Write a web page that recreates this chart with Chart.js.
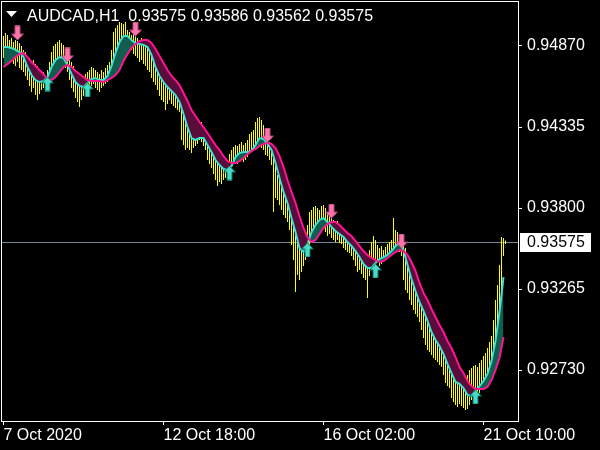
<!DOCTYPE html>
<html><head><meta charset="utf-8">
<script src="https://cdn.jsdelivr.net/npm/chart.js@4.4.0/dist/chart.umd.min.js"></script>
<style>html,body{margin:0;padding:0;background:#000;overflow:hidden;}canvas{display:block;}</style>
</head><body>
<canvas id="c" width="600" height="450"></canvas>
<script>
const symbolTitle = 'AUDCAD,H1';
const ohlcLast = ['0.93575', '0.93586', '0.93562', '0.93575'];
const currentPrice = 0.93575;
const yTickValues = [0.92730, 0.93265, 0.93800, 0.94335, 0.94870];
const xTickBars = [0, 80, 160, 240];
const xTickLabels = ['7 Oct 2020', '12 Oct 18:00', '16 Oct 02:00', '21 Oct 10:00'];

const barHighs = [
0.94936,0.94956,0.94943,0.94910,0.94923,0.94896,0.94910,0.94903,0.94890,0.94870,
0.94844,0.94830,0.94804,0.94791,0.94764,0.94778,0.94751,0.94738,0.94711,0.94685,
0.94698,0.94672,0.94711,0.94764,0.94830,0.94870,0.94883,0.94896,0.94910,0.94890,
0.94877,0.94857,0.94830,0.94791,0.94764,0.94738,0.94711,0.94698,0.94685,0.94672,
0.94659,0.94685,0.94698,0.94711,0.94731,0.94725,0.94711,0.94698,0.94685,0.94711,
0.94698,0.94725,0.94745,0.94764,0.94844,0.94962,0.94989,0.95009,0.95029,0.95022,
0.95016,0.95029,0.94976,0.94962,0.94943,0.94949,0.94936,0.94923,0.94910,0.94923,
0.94896,0.94883,0.94870,0.94857,0.94830,0.94804,0.94778,0.94725,0.94698,0.94678,
0.94659,0.94606,0.94619,0.94606,0.94593,0.94606,0.94579,0.94566,0.94553,0.94527,
0.94447,0.94394,0.94335,0.94302,0.94282,0.94315,0.94289,0.94328,0.94355,0.94368,
0.94342,0.94289,0.94249,0.94223,0.94210,0.94183,0.94150,0.94130,0.94117,0.94104,
0.94091,0.94104,0.94117,0.94157,0.94183,0.94203,0.94216,0.94210,0.94223,0.94236,
0.94216,0.94229,0.94249,0.94289,0.94302,0.94315,0.94368,0.94394,0.94401,0.94381,
0.94348,0.94315,0.94262,0.94236,0.94223,0.94203,0.94117,0.94018,0.93985,0.93972,
0.93952,0.93932,0.93906,0.93853,0.93826,0.93754,0.93688,0.93602,0.93575,0.93549,
0.93589,0.93641,0.93688,0.93774,0.93787,0.93807,0.93813,0.93800,0.93787,0.93813,
0.93820,0.93800,0.93774,0.93754,0.93734,0.93721,0.93708,0.93714,0.93694,0.93681,
0.93655,0.93641,0.93628,0.93615,0.93602,0.93589,0.93575,0.93556,0.93542,0.93503,
0.93490,0.93470,0.93456,0.93523,0.93575,0.93615,0.93589,0.93556,0.93536,0.93549,
0.93523,0.93542,0.93562,0.93575,0.93589,0.93734,0.93655,0.93641,0.93615,0.93589,
0.93562,0.93536,0.93443,0.93390,0.93364,0.93351,0.93324,0.93298,0.93272,0.93245,
0.93192,0.93153,0.93126,0.93100,0.93073,0.93060,0.93034,0.93007,0.92968,0.92941,
0.92895,0.92862,0.92836,0.92809,0.92756,0.92730,0.92717,0.92697,0.92717,0.92704,
0.92690,0.92677,0.92697,0.92730,0.92743,0.92756,0.92763,0.92750,0.92776,0.92796,
0.92822,0.92842,0.92875,0.92915,0.92955,0.93060,0.93192,0.93291,0.93424,0.93608,
0.93602,0.93586];

const barLows = [
0.94791,0.94804,0.94778,0.94764,0.94791,0.94751,0.94738,0.94764,0.94725,0.94711,
0.94698,0.94672,0.94645,0.94606,0.94566,0.94593,0.94546,0.94513,0.94553,0.94579,
0.94593,0.94579,0.94606,0.94632,0.94672,0.94711,0.94725,0.94751,0.94764,0.94738,
0.94751,0.94725,0.94698,0.94645,0.94593,0.94566,0.94527,0.94500,0.94467,0.94513,
0.94540,0.94566,0.94579,0.94593,0.94606,0.94619,0.94593,0.94579,0.94566,0.94593,
0.94606,0.94619,0.94632,0.94659,0.94698,0.94778,0.94804,0.94830,0.94844,0.94857,
0.94830,0.94857,0.94844,0.94830,0.94844,0.94817,0.94804,0.94791,0.94764,0.94778,
0.94751,0.94738,0.94711,0.94698,0.94659,0.94632,0.94612,0.94579,0.94540,0.94513,
0.94500,0.94447,0.94487,0.94513,0.94487,0.94474,0.94460,0.94447,0.94434,0.94249,
0.94216,0.94183,0.94196,0.94183,0.94163,0.94196,0.94210,0.94223,0.94249,0.94236,
0.94210,0.94183,0.94117,0.94091,0.94064,0.94025,0.93985,0.93945,0.93972,0.93958,
0.93985,0.93998,0.94011,0.94038,0.94077,0.94091,0.94104,0.94091,0.94117,0.94130,
0.94104,0.94117,0.94137,0.94157,0.94170,0.94183,0.94210,0.94223,0.94236,0.94196,
0.94183,0.94150,0.94143,0.94117,0.94084,0.93774,0.93866,0.93853,0.93820,0.93787,
0.93754,0.93734,0.93708,0.93655,0.93556,0.93456,0.93245,0.93357,0.93324,0.93377,
0.93417,0.93456,0.93490,0.93556,0.93602,0.93641,0.93655,0.93641,0.93622,0.93655,
0.93668,0.93641,0.93615,0.93628,0.93602,0.93589,0.93575,0.93589,0.93569,0.93562,
0.93536,0.93523,0.93509,0.93503,0.93483,0.93456,0.93417,0.93377,0.93390,0.93364,
0.93338,0.93324,0.93206,0.93351,0.93390,0.93417,0.93430,0.93443,0.93417,0.93430,
0.93443,0.93456,0.93470,0.93483,0.93496,0.93509,0.93523,0.93536,0.93509,0.93483,
0.93324,0.93258,0.93239,0.93192,0.93159,0.93126,0.93100,0.93080,0.93047,0.92994,
0.92941,0.92895,0.92862,0.92849,0.92829,0.92809,0.92796,0.92783,0.92763,0.92750,
0.92697,0.92644,0.92624,0.92611,0.92545,0.92519,0.92499,0.92486,0.92505,0.92492,
0.92479,0.92466,0.92472,0.92499,0.92532,0.92545,0.92558,0.92565,0.92578,0.92611,
0.92631,0.92651,0.92677,0.92697,0.92730,0.92796,0.92895,0.92961,0.93060,0.93192,
0.93483,0.93562];

// fast (cyan) and slow (pink) indicator lines, one value every 2 bars
const fastLine = [
0.94863,0.94863,0.94857,0.94844,0.94830,0.94797,0.94731,0.94678,0.94645,0.94632,
0.94639,0.94665,0.94731,0.94778,0.94797,0.94791,0.94745,0.94685,0.94632,0.94606,
0.94599,0.94626,0.94652,0.94659,0.94645,0.94645,0.94672,0.94738,0.94824,0.94896,
0.94936,0.94936,0.94910,0.94890,0.94883,0.94877,0.94863,0.94811,0.94731,0.94672,
0.94632,0.94599,0.94573,0.94546,0.94500,0.94421,0.94335,0.94262,0.94249,0.94262,
0.94262,0.94216,0.94170,0.94117,0.94084,0.94058,0.94051,0.94077,0.94137,0.94163,
0.94170,0.94170,0.94176,0.94216,0.94262,0.94256,0.94223,0.94183,0.94097,0.93998,
0.93906,0.93833,0.93734,0.93641,0.93536,0.93509,0.93562,0.93641,0.93688,0.93721,
0.93734,0.93708,0.93675,0.93648,0.93628,0.93608,0.93575,0.93549,0.93516,0.93476,
0.93430,0.93404,0.93404,0.93437,0.93463,0.93476,0.93490,0.93516,0.93549,0.93569,
0.93523,0.93424,0.93331,0.93252,0.93179,0.93120,0.93054,0.92981,0.92928,0.92888,
0.92836,0.92770,0.92710,0.92651,0.92638,0.92611,0.92565,0.92558,0.92591,0.92624,
0.92657,0.92704,0.92789,0.92922,0.93113,0.93344];

const slowLine = [
0.94731,0.94751,0.94771,0.94797,0.94817,0.94824,0.94797,0.94764,0.94738,0.94711,
0.94685,0.94652,0.94645,0.94665,0.94698,0.94731,0.94745,0.94731,0.94705,0.94685,
0.94665,0.94645,0.94639,0.94639,0.94639,0.94632,0.94645,0.94659,0.94678,0.94711,
0.94771,0.94817,0.94857,0.94883,0.94903,0.94910,0.94910,0.94890,0.94850,0.94804,
0.94758,0.94711,0.94672,0.94645,0.94612,0.94560,0.94507,0.94447,0.94408,0.94368,
0.94335,0.94295,0.94256,0.94216,0.94183,0.94143,0.94110,0.94097,0.94097,0.94110,
0.94130,0.94157,0.94176,0.94190,0.94210,0.94223,0.94229,0.94223,0.94196,0.94143,
0.94071,0.93985,0.93906,0.93833,0.93747,0.93668,0.93608,0.93575,0.93589,0.93628,
0.93668,0.93694,0.93708,0.93708,0.93688,0.93661,0.93635,0.93615,0.93582,0.93549,
0.93516,0.93490,0.93470,0.93456,0.93443,0.93450,0.93470,0.93490,0.93509,0.93523,
0.93516,0.93490,0.93443,0.93384,0.93305,0.93239,0.93192,0.93133,0.93080,0.93027,
0.92981,0.92922,0.92875,0.92816,0.92750,0.92710,0.92657,0.92624,0.92605,0.92605,
0.92605,0.92618,0.92664,0.92730,0.92809,0.92948];
const lineBarStep = 2;

const upArrowBars = [22, 42, 113, 152, 186, 236];
const upArrowPrices = [0.94619, 0.94580, 0.94031, 0.93523, 0.93384, 0.92552];
const downArrowBars = [7, 32, 66, 132, 164, 199];
const downArrowPrices = [0.94956, 0.94811, 0.94982, 0.94282, 0.93780, 0.93582];

// ---------- build ----------
const FONT = '"Liberation Sans", Arial, sans-serif';
Chart.defaults.font.family = FONT;
Chart.defaults.font.size = 16;
Chart.defaults.color = '#ffffff';

function makeArrow(up, fill, stroke) {
  const c = document.createElement('canvas');
  c.width = 13; c.height = 15;
  const g = c.getContext('2d');
  g.beginPath();
  if (up) {
    g.moveTo(6.5, 0.5); g.lineTo(12.5, 6.5); g.lineTo(9, 6.5); g.lineTo(9, 14.5);
    g.lineTo(4, 14.5); g.lineTo(4, 6.5); g.lineTo(0.5, 6.5); g.closePath();
  } else {
    g.moveTo(6.5, 14.5); g.lineTo(12.5, 8.5); g.lineTo(9, 8.5); g.lineTo(9, 0.5);
    g.lineTo(4, 0.5); g.lineTo(4, 8.5); g.lineTo(0.5, 8.5); g.closePath();
  }
  g.fillStyle = fill; g.fill();
  g.lineWidth = 1; g.strokeStyle = stroke; g.stroke();
  return c;
}
const upImg = makeArrow(true, '#45dcc8', '#16705f');
const downImg = makeArrow(false, '#ff74a8', '#b2467e');

const barData = barHighs.map((h, i) => ({ x: i, y: [barLows[i], h] }));
const fastData = fastLine.map((v, k) => ({ x: k * lineBarStep, y: v }));
const slowData = slowLine.map((v, k) => ({ x: k * lineBarStep, y: v }));
const upData = upArrowBars.map((b, j) => ({ x: b, y: upArrowPrices[j] }));
const downData = downArrowBars.map((b, j) => ({ x: b, y: downArrowPrices[j] }));

const decor = {
  id: 'decor',
  beforeDraw(chart) {
    const c = chart.ctx;
    c.save(); c.fillStyle = '#000'; c.fillRect(0, 0, chart.width, chart.height); c.restore();
  },
  beforeDatasetsDraw(chart) {
    const c = chart.ctx, a = chart.chartArea;
    const y = Math.round(chart.scales.y.getPixelForValue(currentPrice)) + 0.5;
    c.save();
    c.strokeStyle = '#778899'; c.lineWidth = 1;
    c.beginPath(); c.moveTo(a.left, y); c.lineTo(a.right, y); c.stroke();
    c.restore();
  },
  afterDraw(chart) {
    const c = chart.ctx, a = chart.chartArea;
    c.save();
    c.strokeStyle = '#ffffff'; c.lineWidth = 1;
    c.strokeRect(a.left - 0.5, a.top - 0.5, a.right - a.left + 1, a.bottom - a.top + 1);
    c.fillStyle = '#ffffff';
    c.beginPath(); c.moveTo(6, 11); c.lineTo(17, 11); c.lineTo(11.5, 17); c.closePath(); c.fill();
    c.font = '16px ' + FONT;
    c.textBaseline = 'alphabetic'; c.textAlign = 'left';
    c.fillText(symbolTitle + '  ' + ohlcLast.join(' '), 27, 21);
    const y = Math.round(chart.scales.y.getPixelForValue(currentPrice));
    c.fillStyle = '#ffffff';
    c.fillRect(520, y - 9, 71, 19);
    c.fillStyle = '#000000';
    c.textBaseline = 'middle';
    c.fillText(currentPrice.toFixed(5), 527, y + 1);
    c.restore();
  }
};

new Chart(document.getElementById('c'), {
  type: 'bar',
  data: {
    datasets: [
      { type: 'bar', data: barData, backgroundColor: '#ffff00', borderWidth: 0,
        barThickness: 1, inflateAmount: 0, order: 10 },
      { type: 'line', data: fastData, borderColor: '#40e0d0', borderWidth: 2,
        pointRadius: 0, tension: 0, order: 2,
        fill: { target: 2, above: '#115e4e', below: '#5a0c3a' } },
      { type: 'line', data: slowData, borderColor: '#ff1493', borderWidth: 2,
        pointRadius: 0, tension: 0, fill: false, order: 1 },
      { type: 'scatter', data: upData, pointStyle: upImg, pointRadius: 7, order: 0 },
      { type: 'scatter', data: downData, pointStyle: downImg, pointRadius: 7, order: 0 }
    ]
  },
  options: {
    responsive: false,
    animation: false,
    devicePixelRatio: 1,
    events: [],
    layout: { autoPadding: false, padding: { left: 2, top: 2, right: 0, bottom: 0 } },
    plugins: { legend: { display: false }, tooltip: { enabled: false } },
    scales: {
      x: {
        type: 'linear', min: -0.75, max: 257.25, offset: false,
        grid: { display: true, drawOnChartArea: false, drawTicks: true, tickLength: 4,
                color: '#ffffff', offset: false },
        border: { display: false },
        ticks: { autoSkip: false, maxRotation: 0, minRotation: 0, align: 'start', padding: 1,
                 color: '#ffffff', font: { size: 16 },
                 callback: (v) => { const j = xTickBars.indexOf(v); return j >= 0 ? xTickLabels[j] : ''; } },
        afterBuildTicks: (s) => { s.ticks = xTickBars.map(v => ({ value: v })); },
        afterFit: (s) => { s.height = 29; s.paddingLeft = 0; s.paddingRight = 0; }
      },
      y: {
        type: 'linear', position: 'right', min: 0.923932, max: 0.951606,
        grid: { display: true, drawOnChartArea: false, drawTicks: true, tickLength: 4,
                color: '#ffffff' },
        border: { display: false },
        ticks: { padding: 5, color: '#ffffff', font: { size: 16 },
                 callback: (v) => Number(v).toFixed(5) },
        afterBuildTicks: (s) => { s.ticks = yTickValues.map(v => ({ value: v })); },
        afterFit: (s) => { s.width = 82; s.paddingTop = 0; s.paddingBottom = 0; }
      }
    }
  },
  plugins: [decor]
});
</script>
</body></html>
